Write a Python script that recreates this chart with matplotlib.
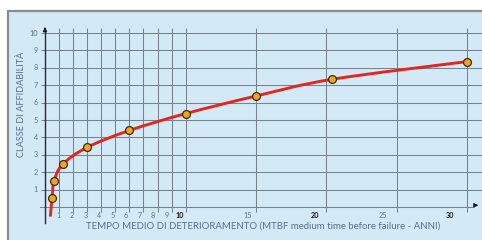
import numpy as np
import matplotlib
matplotlib.use("Agg")
from matplotlib import pyplot as plt
from matplotlib.patches import Rectangle, PathPatch
from matplotlib.path import Path

# data
mtbf = [0.5, 0.65, 1.25, 3, 6, 10, 15, 20.4, 30]
classe = [0.5, 1.5, 2.45, 3.43, 4.4, 5.37, 6.38, 7.34, 8.36]
tail = (0.38, -0.55)  # where the red curve starts below the axis

x_ticks = [1, 2, 3, 4, 5, 6, 7, 8, 9, 10, 15, 20, 25, 30]
x_bold = [10, 20, 30]
y_ticks = [1, 2, 3, 4, 5, 6, 7, 8, 9, 10]

xlabel = "TEMPO MEDIO DI DETERIORAMENTO (MTBF medium time before failure - ANNI)"
ylabel = "CLASSE DI AFFIDABILITÀ"

plt.rcParams['font.family'] = ['Lato', 'DejaVu Sans']

bg = "#d3e9f6"
grid_c = "#76838d"
text_c = "#5a6e84"

fig = plt.figure(figsize=(4.82, 2.40), dpi=100)
fig.patch.set_facecolor("white")
fig.patches.append(Rectangle((8 / 482, -0.1), 1.1, 1.1 - 11 / 240, transform=fig.transFigure,
                             facecolor=bg, edgecolor="#8c8c8c", lw=1.6, zorder=-10))

ax = fig.add_axes([40 / 482, 1 - 232 / 240, 1 - 40 / 482, (232 - 20) / 240])
ax.set_xlim(-0.355, 31.06)
ax.set_ylim(-1.437, 10.75)
ax.axis("off")

# grid
ax.hlines(y_ticks, -0.3, 31.1, color=grid_c, lw=0.75, zorder=1)
ax.hlines(0, -0.9, 30.5, color=grid_c, lw=0.75, zorder=1)
ax.vlines(x_ticks, -0.3, 10.3, color=grid_c, lw=0.75, zorder=1)

# axes with arrows
ax.plot([0, 0], [-0.9, 10.2], color="#2a2a2a", lw=1.0, zorder=2, clip_on=False)
ax.annotate("", xy=(0, 10.5), xytext=(0, 10.1),
            arrowprops=dict(arrowstyle="-|>", color="#1a1a1a", lw=0.8, mutation_scale=6))
ax.annotate("", xy=(31.0, 0.1), xytext=(30.4, 0.1),
            arrowprops=dict(arrowstyle="-|>", color="#1a1a1a", lw=0.8, mutation_scale=6))

# tick labels
for t in y_ticks:
    ax.text(-0.5, t, str(t), ha="right", va="center", fontsize=5.2, color=text_c)
for t in x_ticks:
    ax.text(t * 0.96, -0.47, str(t), ha="center", va="center", fontsize=5.2,
            color="#1a1a1a" if t in x_bold else text_c,
            fontweight="bold" if t in x_bold else "normal")

ax.text(15.5, -1.08, xlabel, ha="center", va="center", fontsize=6.9, color=text_c)
ax.text(-1.65, 5.9, ylabel, ha="center", va="center", rotation=90, fontsize=6.6, color=text_c)

# smooth red curve through the points (Catmull-Rom as cubic Bezier)
px = np.array([tail[0]] + mtbf)
py = np.array([tail[1]] + classe)
pts = np.column_stack([px, py])
verts = [pts[0]]
codes = [Path.MOVETO]
for i in range(len(pts) - 1):
    p0 = pts[i - 1] if i > 0 else pts[i]
    p1 = pts[i]
    p2 = pts[i + 1]
    p3 = pts[i + 2] if i + 2 < len(pts) else pts[i + 1]
    c1 = p1 + (p2 - p0) / 6
    c2 = p2 - (p3 - p1) / 6
    verts += [c1, c2, p2]
    codes += [Path.CURVE4] * 3
ax.add_patch(PathPatch(Path(verts, codes), facecolor="none", edgecolor="#e3261f",
                       lw=2.1, zorder=3, capstyle="butt"))

ax.scatter(mtbf, classe, s=32, color="#f6a31c", edgecolor="#3a2a1a", lw=0.9, zorder=4)

fig.savefig("out.png", dpi=100)
